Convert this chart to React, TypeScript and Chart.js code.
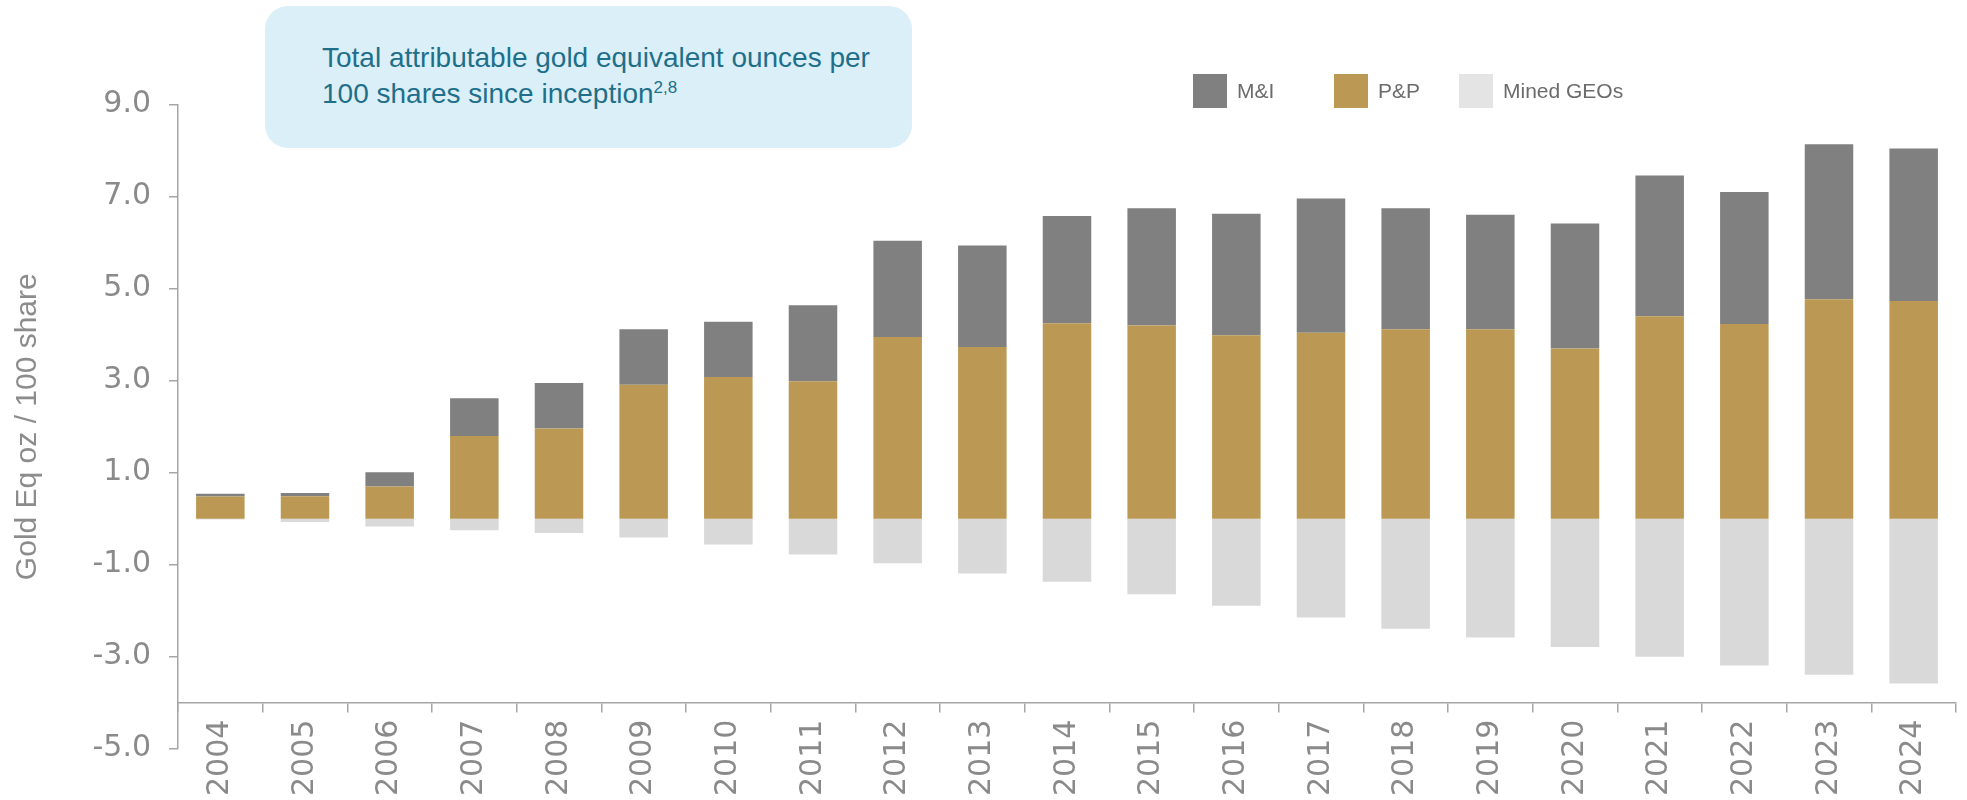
import React, { useEffect, useRef } from "react";
import { Chart, registerables } from "chart.js";

Chart.register(...registerables);

// ---- Data ----
const years = [
  "2004", "2005", "2006", "2007", "2008", "2009", "2010", "2011", "2012", "2013", "2014",
  "2015", "2016", "2017", "2018", "2019", "2020", "2021", "2022", "2023", "2024",
];
// Proven & Probable (bottom of positive stack)
const pnpValues = [
  0.48, 0.49, 0.70, 1.80, 1.96, 2.91, 3.08, 2.99, 3.95, 3.73, 4.25,
  4.20, 3.99, 4.04, 4.12, 4.12, 3.70, 4.40, 4.23, 4.77, 4.73,
];
// Measured & Indicated (stacked on top of P&P)
const mniValues = [
  0.06, 0.07, 0.31, 0.82, 0.99, 1.21, 1.20, 1.65, 2.09, 2.21, 2.33,
  2.55, 2.64, 2.92, 2.63, 2.49, 2.72, 3.06, 2.87, 3.37, 3.32,
];
// Mined gold equivalent ounces (negative)
const minedValues = [
  -0.02, -0.07, -0.17, -0.25, -0.31, -0.41, -0.56, -0.78, -0.97, -1.19, -1.37,
  -1.64, -1.89, -2.15, -2.39, -2.58, -2.79, -3.00, -3.19, -3.39, -3.58,
];
const seriesNames = ["P&P", "M&I", "Mined GEOs"];
const legendOrder = ["M&I", "P&P", "Mined GEOs"];
const yMin = -5;
const yMax = 9;
const yStep = 2;
const categoryAxisAt = -4;
const yAxisTitle = "Gold Eq oz / 100 share";
const boxTitleLine1 = "Total attributable gold equivalent ounces per";
const boxTitleLine2 = "100 shares since inception";
const boxTitleSup = "2,8";

const COLORS: Record<string, string> = {
  "P&P": "#BB9955",
  "M&I": "#7F807F",
  "Mined GEOs": "#D9D9D9",
};
const LEGEND_COLORS: Record<string, string> = {
  "P&P": "#BB9955",
  "M&I": "#7F807F",
  "Mined GEOs": "#E4E4E4",
};

export default function App() {
  const canvasRef = useRef<HTMLCanvasElement | null>(null);

  useEffect(() => {
    document.body.style.margin = "0";
    const canvas = canvasRef.current;
    if (!canvas) return;

    const legendX = [1193, 1334, 1459];
    const fixedLegend = {
      id: "fixedLegend",
      afterDraw(chart: any) {
        const ctx = chart.ctx as CanvasRenderingContext2D;
        ctx.save();
        ctx.font = "21px 'Liberation Sans', Arial, sans-serif";
        ctx.textBaseline = "middle";
        ctx.textAlign = "left";
        legendOrder.forEach((name, i) => {
          const x = legendX[i];
          ctx.fillStyle = LEGEND_COLORS[name];
          ctx.fillRect(x, 74, 34, 34);
          ctx.fillStyle = "#6B6B6B";
          ctx.fillText(name, x + 44, 92);
        });
        ctx.restore();
      },
    };

    const valuesByName: Record<string, number[]> = {
      "P&P": pnpValues,
      "M&I": mniValues,
      "Mined GEOs": minedValues,
    };

    const chart = new Chart(canvas, {
      type: "bar",
      data: {
        labels: years,
        datasets: seriesNames.map((name) => ({
          label: name,
          data: valuesByName[name],
          backgroundColor: COLORS[name],
          borderWidth: 0,
          stack: "s",
          categoryPercentage: 0.573,
          barPercentage: 1,
        })),
      },
      options: {
        responsive: false,
        animation: false,
        devicePixelRatio: 1,
        layout: { padding: { top: 104.7, bottom: 51.3, left: 0, right: 11 } },
        plugins: {
          legend: { display: false },
          tooltip: { enabled: false },
          title: { display: false },
        },
        scales: {
          x: {
            stacked: true,
            position: { y: categoryAxisAt } as any,
            afterFit: (s: any) => {
              s.paddingLeft = 0;
              s.paddingRight = 0;
            },
            border: { color: "#A6A6A6", width: 1.5 },
            grid: {
              drawOnChartArea: false,
              drawTicks: true,
              tickLength: 9,
              color: "#A6A6A6",
              lineWidth: 1.5,
              offset: true,
            },
            ticks: {
              minRotation: 90,
              maxRotation: 90,
              autoSkip: false,
              padding: 8,
              color: "#8A8A8A",
              font: { family: "'DejaVu Sans', sans-serif", size: 30 },
            },
          },
          y: {
            stacked: true,
            min: yMin,
            max: yMax,
            afterFit: (s: any) => {
              s.width = 178;
            },
            border: { color: "#A6A6A6", width: 1.5 },
            grid: {
              drawOnChartArea: false,
              drawTicks: true,
              tickLength: 9,
              color: "#A6A6A6",
              lineWidth: 1.5,
            },
            ticks: {
              stepSize: yStep,
              padding: 18,
              color: "#8A8A8A",
              font: { family: "'DejaVu Sans', sans-serif", size: 30 },
              callback: (v: any) => Number(v).toFixed(1),
            },
            title: {
              display: true,
              text: yAxisTitle,
              color: "#8C8C8C",
              font: { family: "'Liberation Sans', Arial, sans-serif", size: 30 },
              padding: { top: 10, bottom: 0 },
            },
          },
        },
      },
      plugins: [fixedLegend],
    });

    return () => chart.destroy();
  }, []);

  return (
    <div style={{ position: "relative", width: 1967, height: 800, overflow: "hidden" }}>
      <canvas ref={canvasRef} width={1967} height={800} style={{ display: "block" }} />
      <div
        style={{
          position: "absolute",
          left: 265,
          top: 6,
          width: 647,
          height: 142,
          background: "#DAEFF8",
          borderRadius: 23,
        }}
      >
        <div
          style={{
            position: "absolute",
            left: 57,
            top: 34,
            fontFamily: "'Liberation Sans', Arial, sans-serif",
            fontSize: 28,
            lineHeight: "36px",
            color: "#1F6F8B",
            whiteSpace: "nowrap",
          }}
        >
          {boxTitleLine1}
          <br />
          {boxTitleLine2}
          <sup style={{ fontSize: 17, lineHeight: 0, verticalAlign: "10px" }}>{boxTitleSup}</sup>
        </div>
      </div>
    </div>
  );
}
